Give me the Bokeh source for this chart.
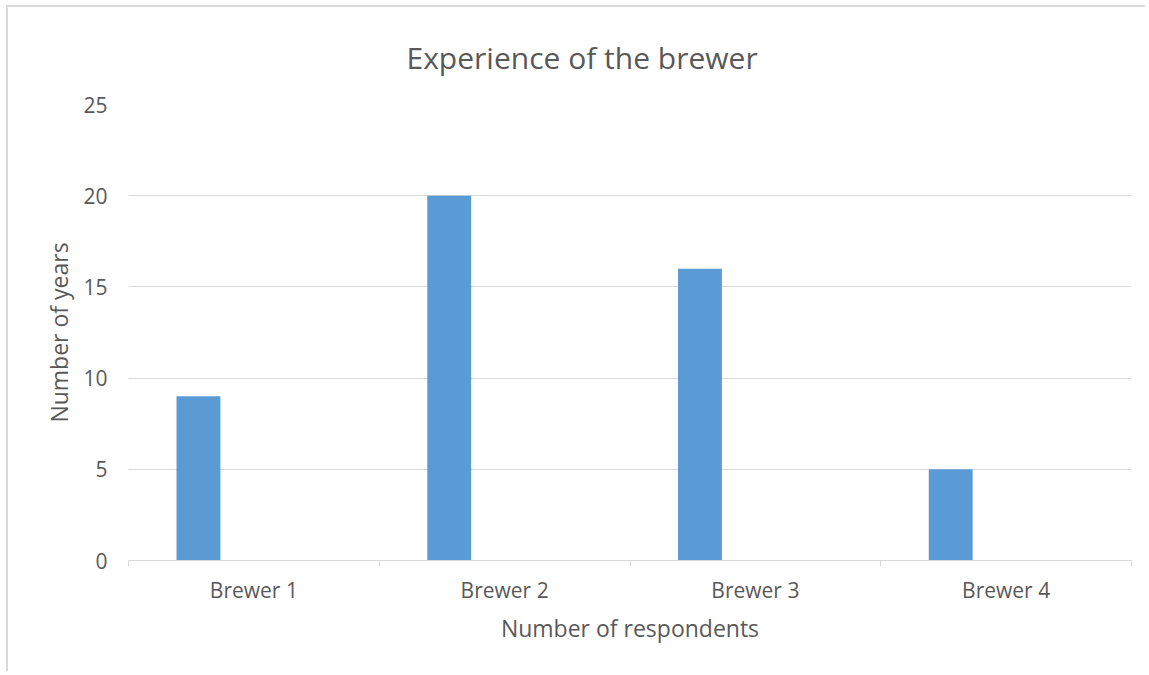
from bokeh.plotting import figure
from bokeh.models import Range1d, FixedTicker, Title, ColumnDataSource
from bokeh.embed import file_html
from bokeh.resources import INLINE

categories = ["Brewer 1", "Brewer 2", "Brewer 3", "Brewer 4"]
years = [9, 20, 16, 5]
y_ticks = [0, 5, 10, 15, 20, 25]
title_text = "Experience of the brewer"

BAR_OFFSET = 0.279
BAR_WIDTH = 0.175
FONT = "Open Sans"
TEXT = "#595959"
GRID = "#d9d9d9"

idx = list(range(len(categories)))
src = ColumnDataSource(dict(x=[i + BAR_OFFSET for i in idx], top=years, cat=categories))

p = figure(width=1139, height=666, output_backend="svg", toolbar_location=None,
           x_range=Range1d(0, len(categories)), y_range=Range1d(0, 25),
           min_border_left=120, min_border_right=16, min_border_top=97, min_border_bottom=113)
p.styles = {"margin-left": "6px", "margin-top": "5px",
            "border-left": f"2px solid {GRID}", "border-top": f"2px solid {GRID}",
            "border-right": "none", "border-bottom": "none", "outline": "none"}
p.border_fill_color = "white"

p.vbar(x="x", top="top", width=BAR_WIDTH, bottom=0, source=src, fill_color="#5b9bd5", line_color=None)

t = Title(text=title_text, align="left", offset=278, standoff=54,
          text_font=FONT, text_font_size="30px", text_font_style="normal", text_color=TEXT)
p.add_layout(t, "above")

p.outline_line_color = None
p.xgrid.grid_line_color = None
p.ygrid.grid_line_color = GRID
p.ygrid.ticker = FixedTicker(ticks=y_ticks)

# x axis
p.xaxis.ticker = FixedTicker(ticks=[i + 0.5 for i in idx], minor_ticks=list(range(len(categories) + 1)))
p.xaxis.major_label_overrides = {i + 0.5: c for i, c in zip(idx, categories)}
p.xaxis.major_tick_line_color = None
p.xaxis.minor_tick_line_color = GRID
p.xaxis.minor_tick_in = 0
p.xaxis.minor_tick_out = 6
p.xaxis.axis_line_color = GRID
p.xaxis.axis_line_width = 1
p.xaxis.major_label_text_font = FONT
p.xaxis.major_label_text_font_size = "21px"
p.xaxis.major_label_text_color = TEXT
p.xaxis.major_label_standoff = 9
p.xaxis.axis_label = "Number of respondents"
p.xaxis.axis_label_text_font = FONT
p.xaxis.axis_label_text_font_size = "23px"
p.xaxis.axis_label_text_font_style = "normal"
p.xaxis.axis_label_text_color = TEXT
p.xaxis.axis_label_standoff = 5

# y axis
p.yaxis.ticker = FixedTicker(ticks=y_ticks)
p.yaxis.axis_line_color = None
p.yaxis.major_tick_line_color = None
p.yaxis.minor_tick_line_color = None
p.yaxis.major_label_text_font = FONT
p.yaxis.major_label_text_font_size = "21px"
p.yaxis.major_label_text_color = TEXT
p.yaxis.major_label_standoff = 15
p.yaxis.axis_label = "Number of years"
p.yaxis.axis_label_text_font = FONT
p.yaxis.axis_label_text_font_size = "23px"
p.yaxis.axis_label_text_font_style = "normal"
p.yaxis.axis_label_text_color = TEXT
p.yaxis.axis_label_standoff = 5

open("out.html", "w").write(file_html(p, INLINE))
